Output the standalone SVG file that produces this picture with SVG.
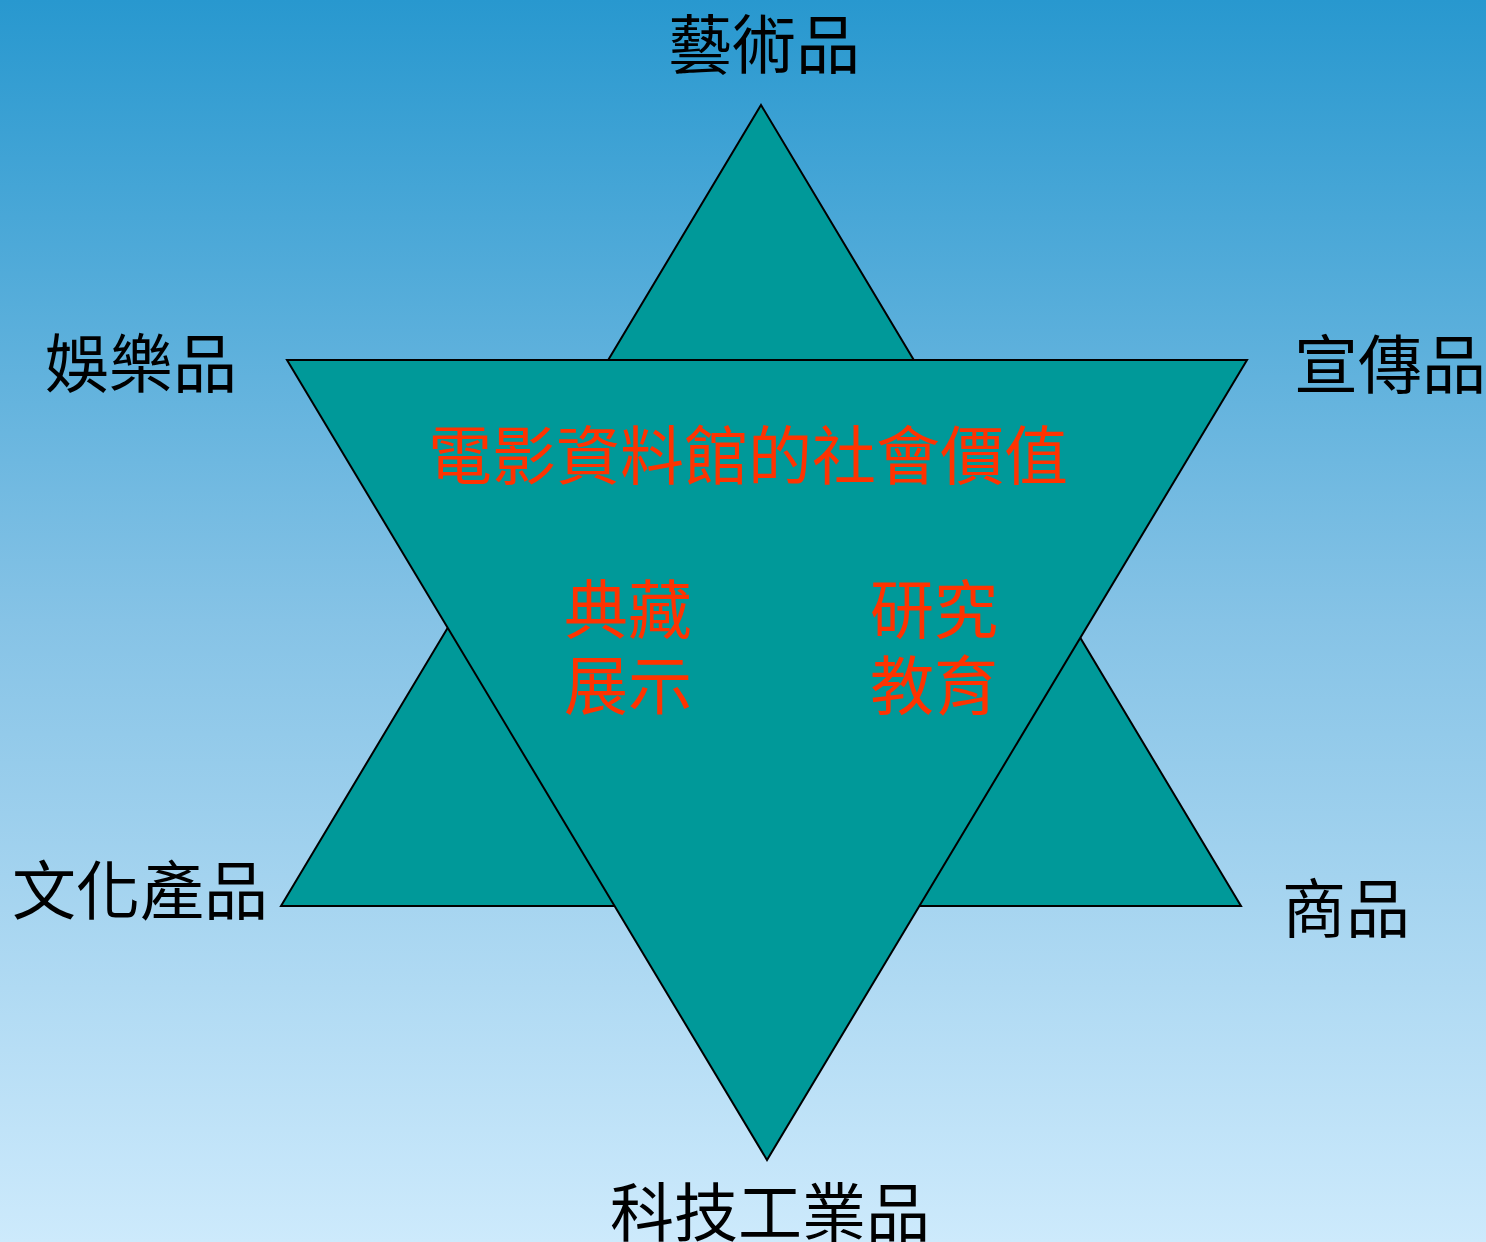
<svg xmlns="http://www.w3.org/2000/svg" width="1486" height="1242" viewBox="0 0 1486 1242">
<defs>
<linearGradient id="bg" x1="0" y1="0" x2="0" y2="1">
<stop offset="0" stop-color="#2898cf"/>
<stop offset="0.5" stop-color="#86c3e6"/>
<stop offset="1" stop-color="#cdeafc"/>
</linearGradient>
<style>
.tri{fill:#009999;stroke:#000;stroke-width:2;stroke-linejoin:miter}
.lbl{font-family:"Noto Sans CJK TC","Noto Sans CJK SC",sans-serif;font-size:64px;fill:#000}
.red{font-family:"Noto Sans CJK TC","Noto Sans CJK SC",sans-serif;font-size:64px;fill:#ff3300}
</style>
</defs>
<rect width="1486" height="1242" fill="url(#bg)"/>
<g id="shapes">
<polygon id="up-triangle" class="tri" points="761,105 1241,906 281,906"/>
<polygon id="down-triangle" class="tri" points="287,360 1247,360 767,1160"/>
</g>
<g id="connectors"/>
<g id="center">
<text class="red" x="428" y="479">電影資料館的社會價值</text>
<text class="red" x="564" y="633">典藏</text>
<text class="red" x="564" y="709">展示</text>
<text class="red" x="870" y="633">研究</text>
<text class="red" x="870" y="709">教育</text>
</g>
<g id="labels">
<text id="art" class="lbl" x="668" y="68">藝術品</text>
<text id="ent" class="lbl" x="45" y="387">娛樂品</text>
<text id="pro" class="lbl" x="1294" y="388">宣傳品</text>
<text id="cul" class="lbl" x="12" y="914">文化產品</text>
<text id="com" class="lbl" x="1282" y="932">商品</text>
<text id="tec" class="lbl" x="610" y="1236">科技工業品</text>
</g>
</svg>
